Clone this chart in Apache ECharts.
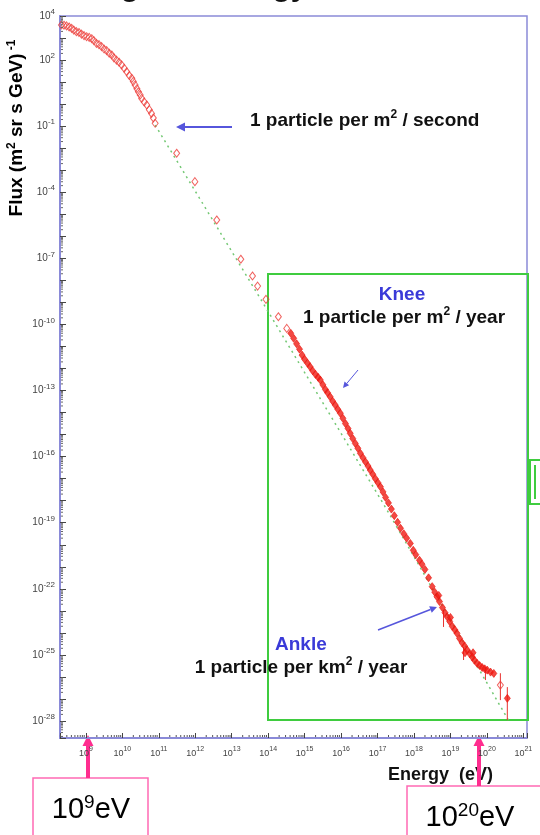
<!DOCTYPE html>
<html>
<head>
<meta charset="utf-8">
<script src="https://cdn.jsdelivr.net/npm/echarts@6/dist/echarts.min.js"></script>
<style>
html, body { margin: 0; padding: 0; background: #fff; }
#chart { width: 540px; height: 835px; }
</style>
</head>
<body>
<div id="chart"></div>
<script>
// every value is log10: energy in eV, flux in (m^2 sr s GeV)^-1
var xRange = [8.29, 21.1];
var yRange = [-28.77, 4];
var xLabelExps = [9, 10, 11, 12, 13, 14, 15, 16, 17, 18, 19, 20, 21];
var yLabelExps = [4, 2, -1, -4, -7, -10, -13, -16, -19, -22, -25, -28];
var xDecades = [8, 9, 10, 11, 12, 13, 14, 15, 16, 17, 18, 19, 20, 21];
var yDecades = [-29, -28, -27, -26, -25, -24, -23, -22, -21, -20, -19, -18, -17, -16, -15,
  -14, -13, -12, -11, -10, -9, -8, -7, -6, -5, -4, -3, -2, -1, 0, 1, 2, 3];

// hollow diamonds (low energies, then sparse points up to the knee)
var lowE = [8.33, 8.40, 8.47, 8.54, 8.61, 8.67, 8.74, 8.81, 8.88, 8.95, 9.02, 9.09, 9.16, 9.22,
  9.29, 9.36, 9.43, 9.50, 9.57, 9.64, 9.71, 9.77, 9.84, 9.91, 9.98, 10.05, 10.12, 10.19, 10.26,
  10.30, 10.35, 10.40, 10.44, 10.49, 10.53, 10.60, 10.67, 10.74, 10.80, 10.85, 10.90,
  11.49, 11.99, 12.59, 13.25, 13.57, 13.71, 13.94, 14.28, 14.51, 20.37];
var lowFlux = [3.59, 3.58, 3.55, 3.50, 3.44, 3.36, 3.29, 3.25, 3.18, 3.11, 3.06, 3.03, 2.97, 2.88,
  2.76, 2.70, 2.61, 2.50, 2.43, 2.31, 2.23, 2.10, 2.00, 1.90, 1.78, 1.63, 1.47, 1.30, 1.17,
  1.03, 0.87, 0.70, 0.56, 0.42, 0.26, 0.10, -0.04, -0.25, -0.42, -0.63, -0.87,
  -2.23, -3.52, -5.26, -7.04, -7.80, -8.26, -8.86, -9.65, -10.18, -26.37];

// dense band of measurements from the knee to the ankle
var kneeE = [14.62, 14.70, 14.78, 14.86, 14.93, 15.00, 15.08, 15.15, 15.22, 15.30, 15.37, 15.43,
  15.50, 15.57, 15.63, 15.70, 15.77, 15.84, 15.91, 15.98, 16.05, 16.12, 16.19, 16.25, 16.32,
  16.39, 16.46, 16.53, 16.60, 16.67, 16.74, 16.80, 16.87, 16.94, 17.01, 17.08, 17.15, 17.22,
  17.30, 17.38, 17.46, 17.55, 17.63, 17.72, 17.80, 17.90, 17.98, 18.05, 18.15, 18.22, 18.30,
  18.40, 18.50, 18.57, 18.63, 18.68, 18.70, 18.78, 18.85, 18.91, 18.98, 19.00, 19.05, 19.12,
  19.18, 19.25, 19.32, 19.39, 19.40, 19.46, 19.53, 19.60, 19.62, 19.66, 19.73, 19.80, 19.87,
  19.94, 20.01, 20.10, 20.19, 20.56];
var kneeFlux = [-10.40, -10.63, -10.88, -11.12, -11.39, -11.58, -11.76, -11.92, -12.10, -12.27,
  -12.40, -12.52, -12.74, -12.95, -13.10, -13.28, -13.48, -13.66, -13.85, -14.03, -14.26, -14.50,
  -14.72, -14.94, -15.18, -15.40, -15.62, -15.85, -16.05, -16.24, -16.43, -16.61, -16.80, -17.00,
  -17.18, -17.37, -17.60, -17.85, -18.10, -18.38, -18.68, -18.98, -19.25, -19.50, -19.70, -19.94,
  -20.25, -20.45, -20.70, -20.88, -21.12, -21.50, -21.90, -22.15, -22.36, -22.30, -22.58, -22.85,
  -23.08, -23.27, -23.48, -23.30, -23.70, -23.86, -24.02, -24.25, -24.45, -24.60, -24.90, -24.78,
  -24.95, -25.10, -24.90, -25.24, -25.38, -25.48, -25.57, -25.63, -25.69, -25.78, -25.84, -26.97];

// vertical error bars near the end of the spectrum
var errE = [18.81, 19.36, 19.96, 20.37, 20.56];
var errLo = [-23.73, -25.23, -26.14, -27.05, -27.96];
var errHi = [-22.96, -24.64, -25.55, -25.83, -26.46];

// dotted reference power law
var refE = [10.90, 13.86, 17.26, 20.59];
var refFlux = [-0.95, -9.03, -18.42, -27.96];

function zip(a, b) {
  return a.map(function (v, i) { return [v, b[i]]; });
}

function powLabel(v, list) {
  var n = Math.round(v);
  if (Math.abs(v - n) > 1e-6 || list.indexOf(n) < 0) return '';
  return '{b|10}{e|' + n + '}';
}

var FONT = 'Liberation Sans';

var xLabelRich = {
  b: { fontSize: 9, lineHeight: 15, color: '#444', fontFamily: FONT },
  e: { fontSize: 7, lineHeight: 7, verticalAlign: 'top', color: '#444', fontFamily: FONT }
};
var yLabelRich = {
  b: { fontSize: 10, lineHeight: 16, color: '#444', fontFamily: FONT },
  e: { fontSize: 8, lineHeight: 8, verticalAlign: 'top', color: '#444', fontFamily: FONT }
};

var LOGK = [2, 3, 4, 5, 6, 7, 8, 9].map(function (k) { return Math.log10(k); });

function xMinor(params, api) {
  var d = api.value(0);
  var kids = [];
  LOGK.forEach(function (o) {
    var v = d + o;
    if (v <= xRange[0] || v >= xRange[1]) return;
    var p = api.coord([v, yRange[0]]);
    kids.push({ type: 'line', shape: { x1: p[0], y1: p[1] - 1, x2: p[0], y2: p[1] - 3 },
      style: { stroke: '#555', lineWidth: 1 } });
  });
  return { type: 'group', children: kids, silent: true };
}

function yMinor(params, api) {
  var d = api.value(1);
  var kids = [];
  LOGK.forEach(function (o) {
    var v = d + o;
    if (v <= yRange[0] || v >= yRange[1]) return;
    var p = api.coord([xRange[0], v]);
    kids.push({ type: 'line', shape: { x1: p[0] + 1, y1: p[1], x2: p[0] + 3, y2: p[1] },
      style: { stroke: '#666', lineWidth: 1 } });
  });
  return { type: 'group', children: kids, silent: true };
}

function errBar(params, api) {
  var a = api.coord([api.value(0), api.value(1)]);
  var b = api.coord([api.value(0), api.value(2)]);
  return { type: 'line', shape: { x1: a[0], y1: a[1], x2: b[0], y2: b[1] },
    style: { stroke: '#e8322f', lineWidth: 1 } };
}

function arrow(x1, y1, x2, y2, color, width, head) {
  var a = Math.atan2(y2 - y1, x2 - x1);
  var bx = x2 - head * Math.cos(a), by = y2 - head * Math.sin(a);
  var px = Math.sin(a) * head * 0.5, py = -Math.cos(a) * head * 0.5;
  return [
    { type: 'line', shape: { x1: x1, y1: y1, x2: bx, y2: by }, style: { stroke: color, lineWidth: width } },
    { type: 'polygon', shape: { points: [[x2, y2], [bx + px, by + py], [bx - px, by - py]] }, style: { fill: color } }
  ];
}

var noteRich = {
  a: { fontSize: 19, lineHeight: 24, fontWeight: 'bold', fontFamily: FONT, color: '#111' },
  s: { fontSize: 12, lineHeight: 12, verticalAlign: 'top', fontWeight: 'bold', fontFamily: FONT, color: '#111' }
};

function txt(x, y, text, size, color, align) {
  return { type: 'text', x: x, y: y, style: {
    text: text, fill: color, align: align || 'left', verticalAlign: 'middle',
    fontSize: size, fontWeight: 'bold', fontFamily: FONT, rich: noteRich } };
}

var bigRich = {
  b: { fontSize: 29, lineHeight: 34, fontFamily: FONT, color: '#2c2f8f' },
  e: { fontSize: 19, lineHeight: 19, verticalAlign: 'top', fontFamily: FONT, color: '#2c2f8f' }
};

var graphics = [
  // clipped title at the very top
  { type: 'text', x: 170, y: 3, style: { text: 'The highest energy', align: 'center', verticalAlign: 'bottom',
    fontSize: 30, fontWeight: 'bold', fontFamily: FONT, fill: '#111' } },
  // y axis title
  { type: 'text', x: 17, y: 128, rotation: Math.PI / 2, style: {
    text: '{t|Flux (m}{s|2}{t| sr s GeV)}{s| -1}', align: 'center', verticalAlign: 'middle',
    rich: {
      t: { fontSize: 19, lineHeight: 22, fontWeight: 'bold', fontFamily: FONT, color: '#111' },
      s: { fontSize: 12, lineHeight: 12, verticalAlign: 'top', fontWeight: 'bold', fontFamily: FONT, color: '#111' }
    } } },
  // x axis title
  txt(388, 775, 'Energy  (eV)', 18, '#111', 'left'),
  // green zoom box
  { type: 'rect', shape: { x: 268, y: 274, width: 260, height: 446 },
    style: { fill: 'none', stroke: '#3fcc3f', lineWidth: 2 } },
  { type: 'rect', shape: { x: 530, y: 460, width: 14, height: 44 },
    style: { fill: '#fff', stroke: '#3fcc3f', lineWidth: 2 } },
  { type: 'line', shape: { x1: 535, y1: 465, x2: 535, y2: 499 }, style: { stroke: '#3fcc3f', lineWidth: 2 } },
  // annotations
  txt(250, 121, '{a|1 particle per m}{s|2}{a| / second}', 19, '#111', 'left'),
  txt(402, 295, 'Knee', 19, '#3a3ad8', 'center'),
  txt(404, 318, '{a|1 particle per m}{s|2}{a| / year}', 19, '#111', 'center'),
  txt(275, 645, 'Ankle', 19, '#3a3ad8', 'left'),
  txt(301, 668, '{a|1 particle per km}{s|2}{a| / year}', 19, '#111', 'center'),
  // pink energy boxes
  { type: 'rect', shape: { x: 33, y: 778, width: 115, height: 70 },
    style: { fill: '#fff', stroke: '#ff69b4', lineWidth: 1.5 } },
  { type: 'rect', shape: { x: 407, y: 786, width: 140, height: 60 },
    style: { fill: '#fff', stroke: '#ff69b4', lineWidth: 1.5 } },
  { type: 'text', x: 91, y: 810, style: { text: '{b|10}{e|9}{b|eV}', align: 'center', verticalAlign: 'middle', rich: bigRich } },
  { type: 'text', x: 470, y: 818, style: { text: '{b|10}{e|20}{b|eV}', align: 'center', verticalAlign: 'middle', rich: bigRich } }
]
  .concat(arrow(232, 127, 176, 127, '#5656dc', 2, 9))
  .concat(arrow(358, 370, 343, 388, '#5656dc', 1, 6))
  .concat(arrow(378, 630, 437, 607, '#5656dc', 1.5, 7))
  .concat(arrow(88, 778, 88, 735, '#ff2d8f', 4, 11))
  .concat(arrow(479, 786, 479, 735, '#ff2d8f', 4, 11));

var axisBlue = '#8a8ad8';

var option = {
  animation: false,
  backgroundColor: '#fff',
  grid: { left: 60, right: 13, top: 16, bottom: 97, show: true, borderColor: axisBlue, borderWidth: 1.5 },
  xAxis: {
    type: 'value', min: xRange[0], max: xRange[1], splitNumber: 13, minInterval: 1, maxInterval: 1,
    splitLine: { show: false },
    axisLine: { onZero: false, lineStyle: { color: axisBlue, width: 2 } },
    axisTick: { inside: true, length: 5, lineStyle: { color: '#444' } },
    axisLabel: { margin: 8, formatter: function (v) { return powLabel(v, xLabelExps); }, rich: xLabelRich }
  },
  yAxis: {
    type: 'value', min: yRange[0], max: yRange[1], splitNumber: 33, minInterval: 1, maxInterval: 1,
    splitLine: { show: false },
    axisLine: { onZero: false, lineStyle: { color: axisBlue, width: 2 } },
    axisTick: { inside: true, length: 6, lineStyle: { color: '#444' } },
    axisLabel: { margin: 5, formatter: function (v) { return powLabel(v, yLabelExps); }, rich: yLabelRich }
  },
  series: [
    { type: 'custom', renderItem: xMinor, data: xDecades.map(function (d) { return [d, yRange[0]]; }),
      encode: { x: 0, y: 1 }, silent: true, z: 5 },
    { type: 'custom', renderItem: yMinor, data: yDecades.map(function (d) { return [xRange[0], d]; }),
      encode: { x: 0, y: 1 }, silent: true, z: 5 },
    { name: 'reference', type: 'line', data: zip(refE, refFlux), symbol: 'none', z: 2,
      lineStyle: { color: '#74c874', width: 1.5, type: [2, 4] } },
    { name: 'errors', type: 'custom', renderItem: errBar, z: 3,
      data: errE.map(function (e, i) { return [e, errLo[i], errHi[i]]; }), encode: { x: 0, y: [1, 2] } },
    { name: 'low', type: 'scatter', data: zip(lowE, lowFlux), symbol: 'diamond', symbolSize: [6, 8], z: 4,
      itemStyle: { color: 'rgba(255,255,255,0)', borderColor: '#ec3a36', borderWidth: 1 } },
    { name: 'knee', type: 'scatter', data: zip(kneeE, kneeFlux), symbol: 'diamond', symbolSize: [6, 8], z: 4,
      itemStyle: { color: '#f01c14', borderColor: '#e8160e', borderWidth: 0.8 } }
  ],
  graphic: { elements: graphics }
};

var myChart = echarts.init(document.getElementById('chart'));
myChart.setOption(option, true);
</script>
</body>
</html>
